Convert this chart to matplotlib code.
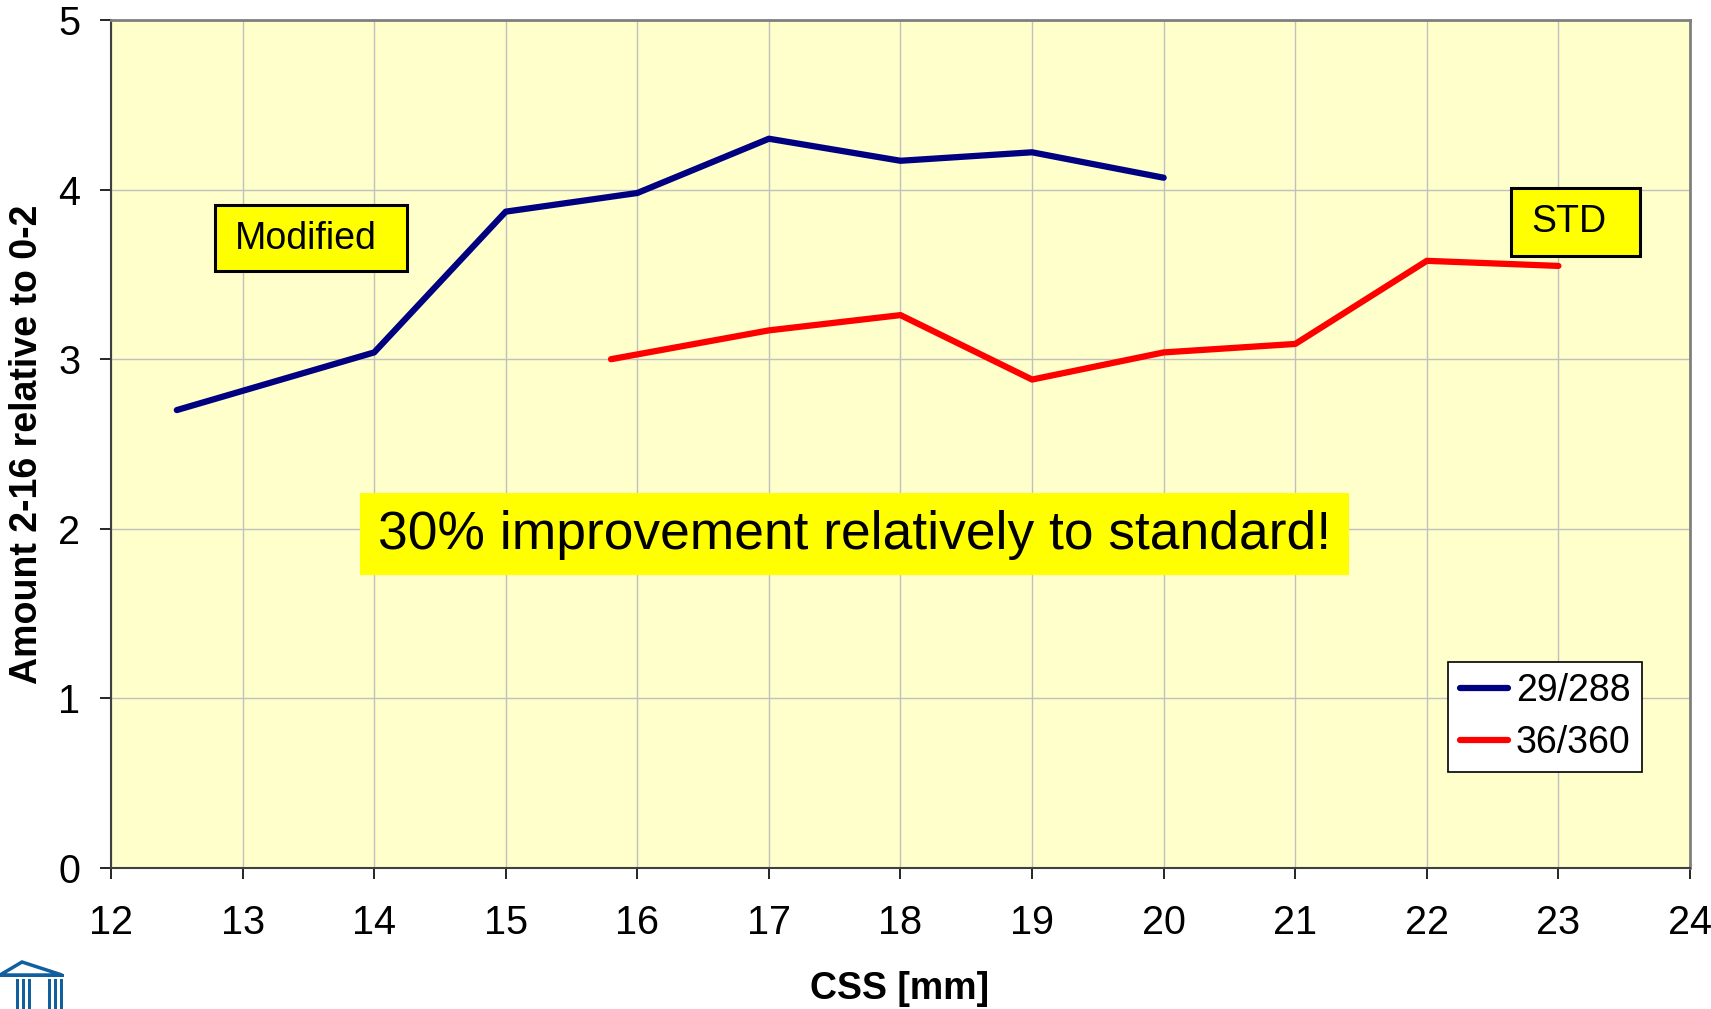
import matplotlib.pyplot as plt
from matplotlib.patches import Polygon, Rectangle

plt.rcParams['font.family'] = ['Liberation Sans', 'DejaVu Sans']

css_mod = [12.5, 14, 15, 16, 17, 18, 19, 20]
amt_mod = [2.70, 3.04, 3.87, 3.98, 4.30, 4.17, 4.22, 4.07]
css_std = [15.8, 17, 18, 19, 20, 21, 22, 23]
amt_std = [3.00, 3.17, 3.26, 2.88, 3.04, 3.09, 3.58, 3.55]

fig = plt.figure(figsize=(17.11, 10.09), dpi=100)
ax = fig.add_axes([111/1711, 1 - 868/1009, (1690-111)/1711, (868-20)/1009])
ax.set_facecolor('#FFFFCC')

ax.plot(css_mod, amt_mod, color='#000080', lw=4.5, label='29/288', solid_capstyle='round')
ax.plot(css_std, amt_std, color='#FF0000', lw=4.5, label='36/360', solid_capstyle='round')

ax.set_xlim(12, 24)
ax.set_ylim(0, 5)
ax.set_xticks(range(12, 25))
ax.set_yticks(range(0, 6))
ax.grid(True, color='#C0C0C0', lw=1)
ax.set_axisbelow(True)
ax.tick_params(labelsize=28.5, length=8, width=1.2, direction='out')
ax.tick_params(axis='x', pad=18)
ax.tick_params(axis='y', pad=14)
for s in ['top', 'right']:
    ax.spines[s].set_color('#808080')
    ax.spines[s].set_linewidth(2)
for s in ['left', 'bottom']:
    ax.spines[s].set_color('#404040')
    ax.spines[s].set_linewidth(1.5)

ax.set_xlabel('CSS [mm]', fontsize=27, fontweight='bold')
ax.set_ylabel('Amount 2-16 relative to 0-2', fontsize=27, fontweight='bold')
ax.xaxis.set_label_coords(0.4997, -0.121)
ax.yaxis.set_label_coords(-0.042, 0.50)

# annotation boxes
ax.add_patch(Rectangle((12.79, 3.52), 1.46, 0.39, fc='#FFFF00', ec='black', lw=2.2, zorder=3))
ax.text(13.48, 3.71, 'Modified', fontsize=27, ha='center', va='center', zorder=4)
ax.add_patch(Rectangle((22.64, 3.61), 0.98, 0.40, fc='#FFFF00', ec='black', lw=2.2, zorder=3))
ax.text(23.08, 3.81, 'STD', fontsize=27, ha='center', va='center', zorder=4)
ax.add_patch(Rectangle((13.89, 1.725), 7.52, 0.485, fc='#FFFF00', ec='none', zorder=3))
ax.text(17.65, 1.965, '30% improvement relatively to standard!', fontsize=38.4,
        ha='center', va='center', zorder=4)

leg = ax.legend(loc='lower right', bbox_to_anchor=(0.9696, 0.113), fontsize=27,
                frameon=True, fancybox=False, edgecolor='black', framealpha=1,
                handlelength=1.3, handletextpad=0.2, borderpad=0.3, labelspacing=0.42,
                borderaxespad=0)
leg.get_frame().set_linewidth(1.2)

# small logo in the lower-left corner
lc = '#1060A0'
fig.patches.append(Polygon([[0/1711, 1-975/1009], [22/1711, 1-962/1009], [62/1711, 1-975/1009]],
                           closed=True, fc='none', ec=lc, lw=2.5, transform=fig.transFigure))
fig.patches.append(Rectangle((0, 1-977/1009), 64/1711, 3/1009, fc=lc, ec='none',
                             transform=fig.transFigure))
for x0 in [16, 22, 28, 48, 54, 60]:
    fig.patches.append(Rectangle((x0/1711, 0), 3/1711, 30/1009, fc=lc, ec='none',
                                 transform=fig.transFigure))

fig.savefig('out.png', dpi=100)
